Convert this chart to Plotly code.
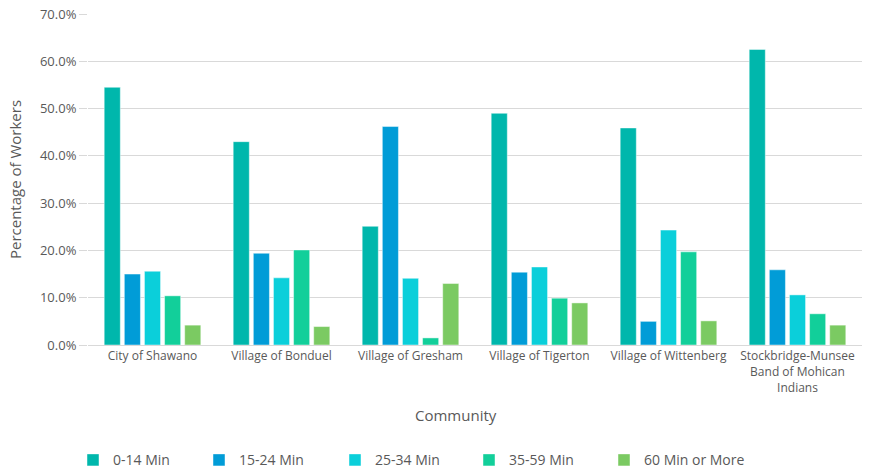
import plotly.graph_objects as go

communities = ["City of Shawano", "Village of Bonduel", "Village of Gresham",
               "Village of Tigerton", "Village of Wittenberg",
               "Stockbridge-Munsee<br>Band of Mohican<br>Indians"]
series_names = ["0-14 Min", "15-24 Min", "25-34 Min", "35-59 Min", "60 Min or More"]
v_0_14 = [54.5, 43.0, 25.1, 49.0, 45.9, 62.5]
v_15_24 = [15.0, 19.4, 46.2, 15.4, 5.0, 15.9]
v_25_34 = [15.6, 14.2, 14.1, 16.5, 24.3, 10.6]
v_35_59 = [10.4, 20.1, 1.5, 9.9, 19.7, 6.6]
v_60 = [4.2, 3.9, 13.0, 8.9, 5.1, 4.2]
colors = ["#00B7AC", "#019CD7", "#0BCFDA", "#12CF9A", "#7BCA62"]

values = [v_0_14, v_15_24, v_25_34, v_35_59, v_60]

font_color = "#595959"
ML, MR, MT, MB = 88, 8, 14, 126
W, H = 870, 471
plot_w = W - ML - MR

legend_px = [73, 199, 335, 469, 604]
legend_keys = ["legend", "legend2", "legend3", "legend4", "legend5"]

fig = go.Figure()
for name, vals, c, lk in zip(series_names, values, colors, legend_keys):
    fig.add_trace(go.Bar(
        x=communities, y=[v / 100 for v in vals], name=name, legend=lk,
        marker=dict(color=c, line=dict(color="rgba(255,255,255,0.45)", width=1)),
    ))

legend_layouts = {}
for lk, px in zip(legend_keys, legend_px):
    legend_layouts[lk] = dict(
        orientation="h", x=(px - ML) / plot_w, xanchor="left", y=-0.300, yanchor="top",
        font=dict(size=14, color=font_color), itemwidth=30, bgcolor="rgba(0,0,0,0)",
    )

fig.update_layout(
    width=W, height=H,
    margin=dict(l=ML, r=MR, t=MT, b=MB, autoexpand=False),
    paper_bgcolor="white", plot_bgcolor="white",
    font=dict(family="Open Sans, Liberation Sans, sans-serif", size=12, color=font_color),
    barmode="group", bargap=0.22, bargroupgap=0.2,
    showlegend=True,
    xaxis=dict(
        showline=True, linecolor="#D9D9D9", linewidth=1, automargin=False,
        tickfont=dict(size=12, color=font_color), ticks="",
    ),
    yaxis=dict(
        title=dict(text="Percentage of Workers", font=dict(size=15, color=font_color), standoff=14),
        range=[0, 0.70], dtick=0.10, tickformat=".1%", automargin=False,
        showgrid=True, gridcolor="#D9D9D9", gridwidth=1,
        zeroline=False, ticks="outside", ticklen=8, tickcolor="#D9D9D9",
        tickfont=dict(size=13, color=font_color),
    ),
    annotations=[dict(
        text="Community", xref="paper", yref="paper",
        x=(456 - ML) / plot_w, y=-(415 - (H - MB)) / (H - MT - MB),
        xanchor="center", yanchor="middle", showarrow=False,
        font=dict(size=15, color=font_color),
    )],
    **legend_layouts,
)

fig.write_html("out.html")
